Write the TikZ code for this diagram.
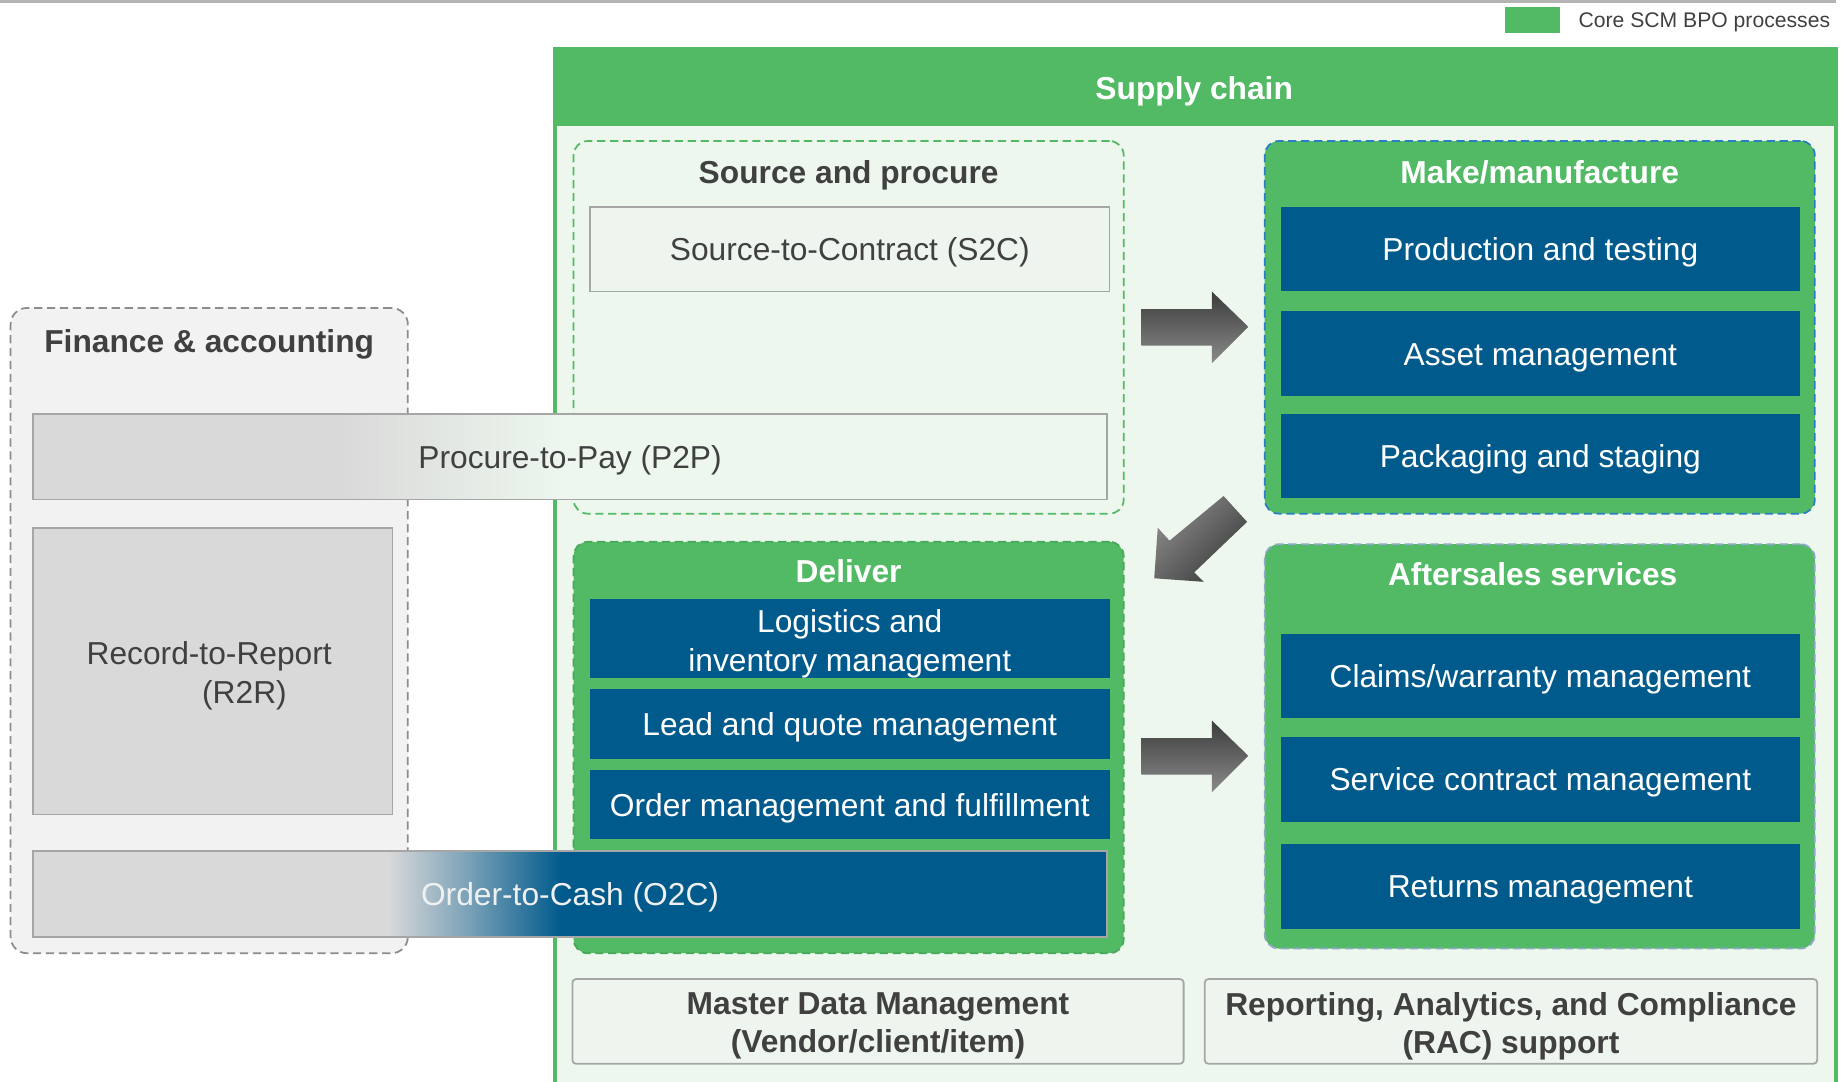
\documentclass[tikz,border=0pt]{standalone}
\usepackage{fontspec}
\setmainfont{Liberation Sans}
\definecolor{scgreen}{HTML}{52BA65}
\definecolor{dgreen}{HTML}{46A85A}
\definecolor{lightbg}{HTML}{EDF7EE}
\definecolor{boxbg}{HTML}{EEF5EE}
\definecolor{scblue}{HTML}{005A8C}
\definecolor{darktxt}{HTML}{404040}
\definecolor{boxgray}{HTML}{D9D9D9}
\definecolor{bordergray}{HTML}{A6A6A6}
\definecolor{fabg}{HTML}{F2F2F2}
\definecolor{fadash}{HTML}{8C8C8C}
\definecolor{mkdash}{HTML}{2A7FC4}
\definecolor{asdash}{HTML}{8FA8C8}
\definecolor{arrdark}{HTML}{3C3C3C}
\definecolor{arrlight}{HTML}{8A8A8A}
\definecolor{linegray}{HTML}{B4B4B4}
\begin{document}
\begin{tikzpicture}[x=1pt,y=-1pt,
  every node/.style={inner sep=0pt,outer sep=0pt},
  oneline/.style={text height=19.5pt,text depth=0pt},
  regf/.style={font=\fontsize{27}{33}\selectfont},
  boldf/.style={font=\fontsize{27}{32}\selectfont\bfseries},
  bluebox/.style={fill=scblue,text=white,regf,oneline,minimum width=441,minimum height=72},
  hdr/.style={boldf,oneline,text=white},
  dhdr/.style={boldf,oneline,text=darktxt},
  grouprect/.style={rounded corners=12pt,line width=1.5pt,dash pattern=on 7pt off 4pt,anchor=north west},
  graybar/.style={draw=bordergray,line width=1.5pt,minimum width=914,minimum height=73},
  lightbox/.style={fill=boxbg,draw=bordergray,line width=1.5pt},
]
\useasboundingbox (0,0) rectangle (1568,920);
% top rule and legend
\coordinate (tl) at (0,1);
\coordinate (tr) at (1562,1);
\draw[linegray,line width=3pt] (tl) -- (tr);
\node[fill=scgreen,minimum width=47,minimum height=22] (legbox) at (1303.5,17) {};
\node[anchor=west,text=darktxt,font=\fontsize{18}{22}\selectfont,text height=13pt,text depth=0pt] (legtxt) at (1343,17) {Core SCM BPO processes};

% Finance & accounting
\node[grouprect,fill=fabg,draw=fadash,rounded corners=14pt,minimum width=338,minimum height=549] (fa) at (9,262) {};
\node[dhdr] (fatitle) at (178,290) {Finance \& accounting};
\node[fill=boxgray,draw=bordergray,line width=1.5pt,minimum width=306,minimum height=244] (r2r) at (181,571) {};
\node[regf,text=darktxt,align=center] (r2rtxt) at (178,575) {Record-to-Report\\\hspace*{60pt}(R2R)};

% Supply chain
\node[fill=lightbg,draw=scgreen,line width=3.5pt,minimum width=1090,minimum height=900,anchor=north west] (sc) at (472,42) {};
\node[fill=scgreen,minimum width=1090,minimum height=65,anchor=north west] (schead) at (472,42) {};
\node[hdr] (sctitle) at (1016,75) {Supply chain};

% Source and procure
\node[grouprect,draw=scgreen,minimum width=468,minimum height=317] (sp) at (488,120) {};
\node[dhdr] (sptitle) at (722,146) {Source and procure};
\node[lightbox,regf,oneline,text=darktxt,minimum width=442,minimum height=72] (s2c) at (723,212) {Source-to-Contract (S2C)};

% Make / manufacture
\node[grouprect,fill=scgreen,draw=mkdash,minimum width=468,minimum height=317] (mk) at (1076,120) {};
\node[hdr] (mktitle) at (1310,146) {Make/manufacture};
\node[bluebox] (prod) at (1310.5,212) {Production and testing};
\node[bluebox] (asset) at (1310.5,301) {Asset management};
\node[bluebox] (pack) at (1310.5,388) {Packaging and staging};

% Deliver
\node[grouprect,fill=scgreen,draw=dgreen,minimum width=468,minimum height=350] (dl) at (488,461) {};
\node[hdr] (dltitle) at (722,486) {Deliver};
\node[fill=scblue,minimum width=442,minimum height=67] (logi) at (723,543.5) {};
\node[regf,text=white,align=center] (logitxt) at (723,547.5) {Logistics and\\inventory management};
\node[bluebox,minimum width=442,minimum height=60] (lead) at (723,616) {Lead and quote management};
\node[bluebox,minimum width=442,minimum height=59] (order) at (723,684.5) {Order management and fulfillment};

% Aftersales
\node[grouprect,fill=scgreen,draw=asdash,minimum width=468,minimum height=344] (as) at (1076,463) {};
\node[hdr] (astitle) at (1304,488) {Aftersales services};
\node[bluebox] (claims) at (1310.5,575) {Claims/warranty management};
\node[bluebox] (service) at (1310.5,663) {Service contract management};
\node[bluebox] (returns) at (1310.5,754) {Returns management};

% P2P bar
\fill[boxgray] (28,352) rectangle (290,425);
\shade[left color=boxgray,right color=lightbg] (290,352) rectangle (480,425);
\fill[lightbg] (480,352) rectangle (942,425);
\node[graybar,regf,oneline,text=darktxt] (p2p) at (485,388.5) {Procure-to-Pay (P2P)};

% O2C bar
\fill[boxgray] (28,724) rectangle (330,797);
\shade[left color=boxgray,right color=scblue!45!boxgray] (330,724) rectangle (400,797);
\shade[left color=scblue!45!boxgray,right color=scblue] (400,724) rectangle (478,797);
\fill[scblue] (478,724) rectangle (942,797);
\node[graybar,regf,oneline,text=white!94!black] (o2c) at (485,760.5) {Order-to-Cash (O2C)};

% block arrows
\shade[top color=arrdark,bottom color=arrlight]
  (971,263) -- (1031,263) -- (1031,248) -- (1062,278) -- (1031,309) -- (1031,294) -- (971,294) -- cycle;
\shade[top color=arrdark,bottom color=arrlight]
  (971,628) -- (1031,628) -- (1031,613) -- (1062,643) -- (1031,674) -- (1031,659) -- (971,659) -- cycle;
\shade[left color=arrlight,right color=arrdark,shading angle=45]
  (1041,422) -- (1061,444) -- (1016,487) -- (1024,495) -- (982,492) -- (985,449) -- (995,460) -- cycle;

% bottom boxes
\node[lightbox,rounded corners=3pt,minimum width=520,minimum height=72] (mdm) at (747,869) {};
\node[boldf,text=darktxt,align=center] (mdmtxt) at (747,873) {Master Data Management\\(Vendor/client/item)};
\node[lightbox,rounded corners=3pt,minimum width=521,minimum height=72] (rac) at (1285.5,869) {};
\node[boldf,text=darktxt,align=center] (ractxt) at (1285.5,873) {Reporting, Analytics, and Compliance\\(RAC) support};
\end{tikzpicture}
\end{document}
